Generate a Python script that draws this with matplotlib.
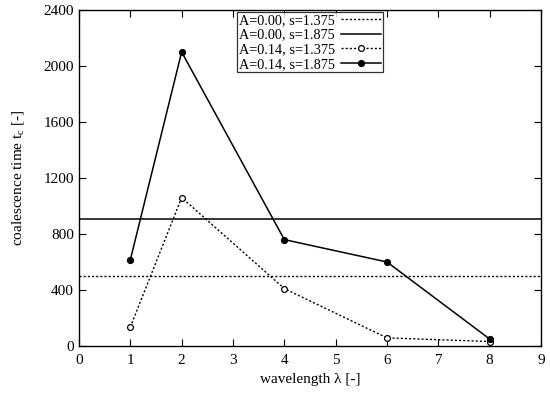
import matplotlib
matplotlib.use("Agg")
import matplotlib.pyplot as plt

plt.rcParams['font.family'] = ['Liberation Serif', 'DejaVu Serif']
plt.rcParams['mathtext.fontset'] = 'custom'
plt.rcParams['mathtext.rm'] = 'Liberation Serif'
plt.rcParams['mathtext.it'] = 'Liberation Serif'

# data
wavelength = [1, 2, 4, 6, 8]
tc_a014_s1375 = [135, 1060, 410, 58, 32]
tc_a014_s1875 = [615, 2100, 760, 600, 50]
tc_a000_s1375 = 500
tc_a000_s1875 = 910

fig = plt.figure(figsize=(5.5, 3.93), dpi=100)
ax = fig.add_axes([0.1436, 0.1196, 0.84, 0.855])

ax.axhline(tc_a000_s1375, color='black', lw=1, ls=(0, (1.5, 1.5)), label='A=0.00, s=1.375')
ax.axhline(tc_a000_s1875, color='black', lw=1.1, label='A=0.00, s=1.875')
ax.plot(wavelength, tc_a014_s1375, color='black', lw=1, ls=(0, (1.5, 1.5)),
        marker='o', ms=4.2, mfc='white', mec='black', mew=0.9, label='A=0.14, s=1.375')
ax.plot(wavelength, tc_a014_s1875, color='black', lw=1.1,
        marker='o', ms=4.2, mfc='black', mec='black', label='A=0.14, s=1.875')

ax.set_xlim(0, 9)
ax.set_ylim(0, 2400)
ax.set_xticks(range(0, 10))
ax.set_yticks(range(0, 2401, 400))
ax.tick_params(direction='in', top=True, right=True, labelsize=11, length=5, width=0.8)
ax.tick_params(axis='x', pad=6)
for s in ax.spines.values():
    s.set_linewidth(1)

ax.set_xlabel('wavelength λ [-]', fontsize=11)
ax.set_ylabel('coalescence time t$_c$ [-]', fontsize=11, labelpad=13)

# gnuplot-style key: text first, sample on the right
leg = ax.legend(loc='upper center', bbox_to_anchor=(0.5, 0.993), markerfirst=False,
                fontsize=10.3, frameon=True, fancybox=False, edgecolor='black',
                borderpad=0.1, labelspacing=0.12, handlelength=2.8, handletextpad=0.45,
                borderaxespad=0.0)
leg.get_frame().set_linewidth(0.9)

fig.savefig('out.png', dpi=100)
